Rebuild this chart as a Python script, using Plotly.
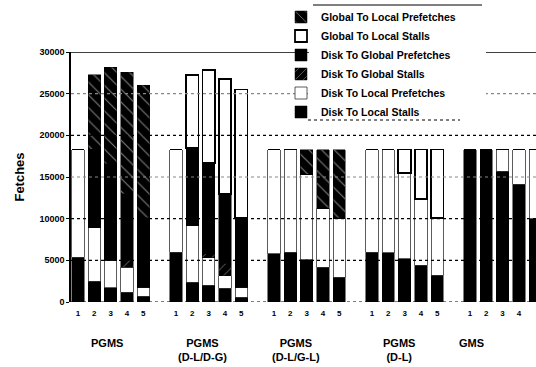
import plotly.graph_objects as go

# ---- data (5 configurations x 5 bars) ----
groups = ["PGMS", "PGMS<br>(D-L/D-G)", "PGMS<br>(D-L/G-L)", "PGMS<br>(D-L)", "GMS"]
bar_labels = ["1", "2", "3", "4", "5"]

disk_local_stalls = [5400, 2500, 1700, 1200, 700,
                     6000, 2400, 2000, 1650, 600,
                     5800, 5950, 5100, 4200, 3000,
                     5950, 5900, 5200, 4400, 3200,
                     18300, 18300, 15700, 14150, 10000]
disk_local_prefetches = [12900, 6400, 3300, 3000, 1100,
                         12300, 6750, 3300, 1500, 1200,
                         12500, 12350, 10250, 7100, 7100,
                         12350, 12400, 10250, 8000, 6900,
                         0, 0, 2600, 4150, 8300]
disk_global_stalls = [0, 0, 0, 800, 0,
                      0, 0, 500, 1500, 0,
                      0, 0, 0, 0, 0,
                      0, 0, 0, 0, 0,
                      0, 0, 0, 0, 0]
disk_global_prefetches = [0, 9450, 11600, 8000, 8300,
                          0, 9300, 10850, 8350, 8300,
                          0, 0, 0, 0, 0,
                          0, 0, 0, 0, 0,
                          0, 0, 0, 0, 0]
global_local_stalls = [0, 0, 0, 0, 0,
                       0, 8800, 11200, 13800, 15400,
                       0, 0, 0, 0, 0,
                       0, 0, 2850, 5900, 8200,
                       0, 0, 0, 0, 0]
global_local_prefetches = [0, 8900, 11600, 14600, 15900,
                           0, 0, 0, 0, 0,
                           0, 0, 2950, 7000, 8200,
                           0, 0, 0, 0, 0,
                           0, 0, 0, 0, 0]

y_ticks = [0, 5000, 10000, 15000, 20000, 25000, 30000]

# positions: group g, bar i -> 6*g + i
xpos = [6 * g + i for g in range(len(groups)) for i in range(5)]
xtext = [bar_labels[i] for g in range(len(groups)) for i in range(5)]

FONT = "Liberation Sans"
BW = 0.76

series = [
    ("Disk To Local Stalls", disk_local_stalls,
     dict(color="black", line=dict(color="black", width=0.5))),
    ("Disk To Local Prefetches", disk_local_prefetches,
     dict(color="white", line=dict(color="#333", width=0.8))),
    ("Disk To Global Stalls", disk_global_stalls,
     dict(color="black", line=dict(color="black", width=0.5),
          pattern=dict(shape="/", fgcolor="white", bgcolor="black", size=7, solidity=0.12))),
    ("Disk To Global Prefetches", disk_global_prefetches,
     dict(color="black", line=dict(color="black", width=0.5))),
    ("Global To Local Stalls", global_local_stalls,
     dict(color="white", line=dict(color="black", width=1.8))),
    ("Global To Local Prefetches", global_local_prefetches,
     dict(color="black", line=dict(color="black", width=0.5),
          pattern=dict(shape="\\", fgcolor="white", bgcolor="black", size=9, solidity=0.12))),
]

fig = go.Figure()
for name, vals, marker in series:
    fig.add_trace(go.Bar(x=xpos, y=vals, name=name, width=BW, marker=marker))

L, T, B = 71, 52, 65
W, H = 536, 367
PW, PH = W - L, H - T - B
px_per_unit = 16.33
x0 = (L - 78) / px_per_unit
x1 = x0 + PW / px_per_unit

def px(xp):
    return (xp - L) / PW

def py(yp):
    return (H - B - yp) / PH

fig.update_layout(
    width=W, height=H,
    margin=dict(l=L, r=0, t=T, b=B),
    barmode="stack",
    paper_bgcolor="white", plot_bgcolor="white",
    font=dict(family=FONT, color="black", weight="bold"),
    legend=dict(
        x=px(281), y=py(2.5), xanchor="left", yanchor="top",
        bgcolor="rgba(0,0,0,0)", borderwidth=0,
        traceorder="reversed", itemwidth=30,
        font=dict(family=FONT, size=10.5, color="black", weight="bold"),
    ),
    xaxis=dict(
        range=[x0, x1], tickmode="array", tickvals=xpos, ticktext=xtext,
        showgrid=False, zeroline=False, showline=False, ticks="",
        ticklabelstandoff=5,
        tickfont=dict(family=FONT, size=8, weight="bold"),
    ),
    yaxis=dict(
        range=[0, 30000], tickvals=y_ticks, ticktext=[str(v) for v in y_ticks],
        showgrid=False, zeroline=False,
        showline=True, linecolor="black", linewidth=1.5,
        ticks="outside", ticklen=3, tickcolor="black",
        tickfont=dict(family=FONT, size=9, weight="bold"),
        title=dict(text="Fetches", font=dict(family=FONT, size=13, weight="bold"), standoff=12),
    ),
)

# dotted gridlines drawn above the bars (visible through white segments)
for v in y_ticks[1:-1]:
    fig.add_shape(type="line", xref="paper", yref="y", x0=0, x1=1, y0=v, y1=v,
                  line=dict(color="black" if v in (5000, 10000, 20000) else "#888",
                            width=1.2, dash="dot"), layer="above")
# top frame line at 30000 and dotted baseline
fig.add_shape(type="line", xref="paper", yref="y", x0=0, x1=1, y0=30000, y1=30000,
              line=dict(color="black", width=1.5), layer="above")
fig.add_shape(type="line", xref="paper", yref="y", x0=0, x1=1, y0=0, y1=0,
              line=dict(color="black", width=1.2, dash="dot"), layer="above")

# legend box: white background, top rule and dotted bottom rule
fig.add_shape(type="rect", xref="paper", yref="paper",
              x0=px(309), x1=px(486), y0=py(118), y1=py(5),
              fillcolor="white", line=dict(width=0), layer="above")
fig.add_shape(type="line", xref="paper", yref="paper",
              x0=px(313), x1=px(482), y0=py(5), y1=py(5),
              line=dict(color="black", width=1.2), layer="above")
fig.add_shape(type="line", xref="paper", yref="paper",
              x0=px(308), x1=px(460), y0=py(120), y1=py(120),
              line=dict(color="black", width=1, dash="dot"), layer="above")

# group labels
label_x = [1.8, 7.65, 13.35, 19.63, 24.09]
for gx, txt in zip(label_x, groups):
    fig.add_annotation(x=gx, xref="x", y=py(335), yref="paper", text=txt,
                       showarrow=False, yanchor="top", xanchor="center",
                       font=dict(family=FONT, size=11, weight="bold"))

fig.write_html("out.html")
